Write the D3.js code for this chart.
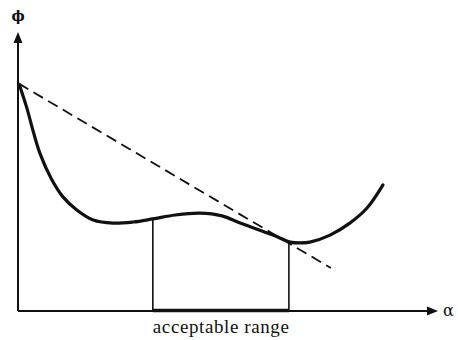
<!DOCTYPE html>
<html><head><meta charset="utf-8">
<script src="https://cdn.jsdelivr.net/npm/d3@7"></script>
<style>html,body{margin:0;padding:0;background:#fff;}</style>
</head><body>
<script>
// Data (arbitrary units: alpha 0..10, phi 0..10)
const curveAlpha = [0.03, 0.21, 0.36, 0.52, 0.79, 1.07, 1.40, 1.79, 2.26, 2.74, 3.21, 3.74, 4.33, 4.86, 5.29, 6.07, 6.48, 6.71, 6.95, 7.43, 7.90, 8.31, 8.69];
const curvePhi   = [8.12, 7.28, 6.45, 5.66, 4.75, 4.09, 3.62, 3.26, 3.15, 3.19, 3.30, 3.44, 3.51, 3.41, 3.15, 2.72, 2.47, 2.44, 2.47, 2.72, 3.15, 3.69, 4.52];
const tangentAlpha = [0.02, 7.45];
const tangentPhi   = [8.15, 1.54];
const rangeAlpha = [3.21, 6.45];
const rangePhi   = [3.30, 2.47];
const xLabel = "\u03B1";
const yLabel = "\u03D5";
const rangeLabel = "acceptable range";

const W = 458, H = 340;
const svg = d3.select("body").append("svg").attr("width", W).attr("height", H);
const x = d3.scaleLinear().domain([0, 10]).range([18, 438]);
const y = d3.scaleLinear().domain([0, 10]).range([311, 32]);
const ink = "#111";

// axes
svg.append("line").attr("x1", x(0)).attr("y1", y(0)).attr("x2", x(0)).attr("y2", y(10) + 8)
  .attr("stroke", ink).attr("stroke-width", 2);
svg.append("line").attr("x1", x(0)).attr("y1", y(0)).attr("x2", x(10) - 8).attr("y2", y(0))
  .attr("stroke", ink).attr("stroke-width", 2);
svg.append("path").attr("d", `M${x(0)},${y(10)} L${x(0)-4.5},${y(10)+11} L${x(0)+4.5},${y(10)+11} Z`).attr("fill", ink);
svg.append("path").attr("d", `M${x(10)},${y(0)} L${x(10)-11},${y(0)-4.5} L${x(10)-11},${y(0)+4.5} Z`).attr("fill", ink);

// range bar on axis
svg.append("line").attr("x1", x(rangeAlpha[0])).attr("x2", x(rangeAlpha[1]))
  .attr("y1", y(0) - 0.5).attr("y2", y(0) - 0.5).attr("stroke", ink).attr("stroke-width", 3.5);

// verticals
rangeAlpha.forEach((a, i) => {
  svg.append("line").attr("x1", x(a)).attr("x2", x(a)).attr("y1", y(rangePhi[i])).attr("y2", y(0))
    .attr("stroke", ink).attr("stroke-width", 1.6);
});

// dashed tangent
svg.append("line").attr("x1", x(tangentAlpha[0])).attr("y1", y(tangentPhi[0]))
  .attr("x2", x(tangentAlpha[1])).attr("y2", y(tangentPhi[1]))
  .attr("stroke", ink).attr("stroke-width", 1.8).attr("stroke-dasharray", "11,6");

// curve
const pts = curveAlpha.map((a, i) => [a, curvePhi[i]]);
const line = d3.line().x(d => x(d[0])).y(d => y(d[1])).curve(d3.curveCatmullRom.alpha(0.5));
svg.append("path").attr("d", line(pts)).attr("fill", "none").attr("stroke", ink)
  .attr("stroke-width", 3.2).attr("stroke-linecap", "round");

// labels
svg.append("text").attr("x", x(0)).attr("y", 21).attr("text-anchor", "middle")
  .attr("font-family", "DejaVu Serif").attr("font-size", 14).attr("font-weight", "bold").attr("fill", ink).text(yLabel);
svg.append("text").attr("x", 443).attr("y", y(0) + 5).attr("text-anchor", "start")
  .attr("font-family", "DejaVu Serif").attr("font-size", 16).attr("fill", ink).text(xLabel);
svg.append("text").attr("x", x(rangeAlpha[0])).attr("y", 333)
  .attr("text-anchor", "start").attr("font-family", "Liberation Serif").attr("font-size", 19)
  .attr("textLength", x(rangeAlpha[1]) - x(rangeAlpha[0])).attr("lengthAdjust", "spacing")
  .attr("fill", ink).text(rangeLabel);
</script>
</body></html>
